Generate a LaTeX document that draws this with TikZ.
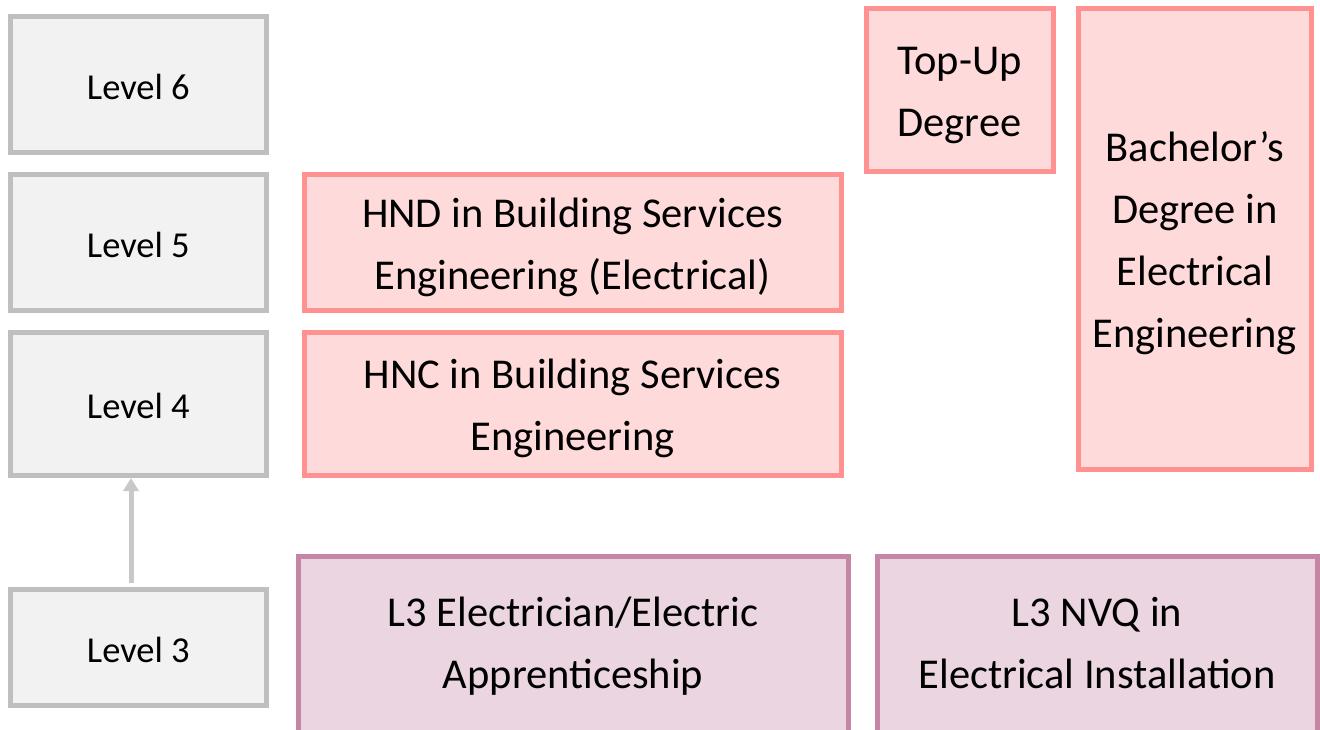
\documentclass[tikz,border=0pt]{standalone}
\usepackage{fontspec}
\setmainfont{Carlito}
\usetikzlibrary{arrows.meta}
\definecolor{lvfill}{HTML}{F2F2F2}
\definecolor{lvdraw}{HTML}{BFBFBF}
\definecolor{arrowgray}{HTML}{C8C8C8}
\definecolor{pkfill}{HTML}{FFDADA}
\definecolor{pkdraw}{HTML}{FF9191}
\definecolor{pufill}{HTML}{EAD5E1}
\definecolor{pudraw}{HTML}{C586A6}
% stack of centred lines whose reference point is the first baseline
\newcommand\linestack[1]{\vtop{\halign{\hfil##\hfil\cr#1\crcr}}}
\tikzset{
  levelbox/.style={draw=lvdraw, fill=lvfill, line width=5pt, inner sep=0pt,
    minimum width=256.6pt},
  leveltext/.style={anchor=base, inner sep=0pt, font=\fontsize{36.5}{44}\selectfont},
  pinkbox/.style={draw=pkdraw, fill=pkfill, line width=5pt, inner sep=0pt},
  purplebox/.style={draw=pudraw, fill=pufill, line width=5pt, inner sep=0pt},
  boxtext/.style={anchor=base, inner sep=0pt, font=\fontsize{42.5}{62}\selectfont},
  uparrow/.style={draw=arrowgray, line width=5pt, -{Triangle[width=15pt,length=13pt]}}
}
\begin{document}
\begin{tikzpicture}[x=1pt,y=-1pt]
\clip (0,0) rectangle (1320,729);
\fill[white] (0,0) rectangle (1320,729);
% level boxes
\node[levelbox, minimum height=135.8pt] (l6) at (138.3,84.6) {};
\node[leveltext] (l6t) at (138.3,99.5) {Level 6};
\node[levelbox, minimum height=136.2pt] (l5) at (138.3,242.4) {};
\node[leveltext] (l5t) at (138.3,257.3) {Level 5};
\node[levelbox, minimum height=143.5pt] (l4) at (138.3,403.75) {};
\node[leveltext] (l4t) at (138.3,418.6) {Level 4};
\node[levelbox, minimum height=116.4pt] (l3) at (138.3,647.5) {};
\node[leveltext] (l3t) at (138.3,662.3) {Level 3};
% pink boxes
\node[pinkbox, minimum width=537pt, minimum height=136pt] (hnd) at (572.5,242.5) {};
\node[boxtext] (hndt) at (572.5,227.2)
  {\linestack{HND in Building Services\cr Engineering (Electrical)}};
\node[pinkbox, minimum width=537pt, minimum height=143.5pt] (hnc) at (572.5,403.75) {};
\node[boxtext] (hnct) at (572.5,388)
  {\linestack{HNC in Building Services\cr Engineering}};
\node[pinkbox, minimum width=187pt, minimum height=163pt] (topup) at (959.5,90.2) {};
\node[boxtext] (topupt) at (959.5,74.5)
  {\linestack{Top-Up\cr Degree}};
\node[pinkbox, minimum width=233pt, minimum height=460.3pt] (bach) at (1194.8,238.85) {};
\node[boxtext] (bacht) at (1194.8,161)
  {\linestack{Bachelor’s\cr Degree in\cr Electrical\cr Engineering}};
% purple boxes
\node[purplebox, minimum width=550pt, minimum height=177.5pt] (appr) at (573,645.25) {};
\node[boxtext] (apprt) at (573,626.7)
  {\linestack{L3 Electrician/Electric\cr Apprenticeship}};
\node[purplebox, minimum width=440pt, minimum height=177.5pt] (nvq) at (1097,645.25) {};
\node[boxtext] (nvqt) at (1097,626.7)
  {\linestack{L3 NVQ in\cr Electrical Installation}};
% arrow
\draw[uparrow, shorten <=3.5pt] ([xshift=-7.3pt]l3.north) -- ([xshift=-7.3pt]l4.south);
\end{tikzpicture}
\end{document}
